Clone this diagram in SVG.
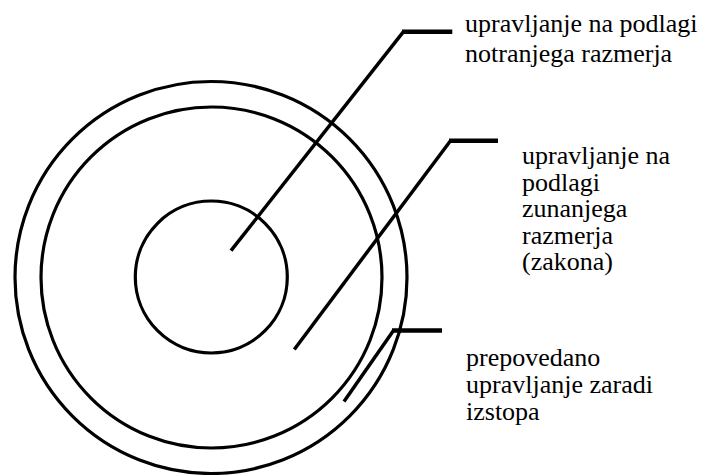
<svg xmlns="http://www.w3.org/2000/svg" width="703" height="475" viewBox="0 0 703 475">
<defs>
<circle id="unused-def" r="0"/>
</defs>
<rect width="703" height="475" fill="#fff"/>
<g id="outer-ring"><circle cx="211" cy="277.5" r="196" fill="none" stroke="#000" stroke-width="3.2"/></g>
<g id="middle-ring"><circle cx="211.5" cy="277.5" r="170.5" fill="none" stroke="#000" stroke-width="3.2"/></g>
<g id="inner-ring"><circle cx="211.3" cy="277" r="76" fill="none" stroke="#000" stroke-width="3.2"/></g>
<g id="connectors" stroke="#000" fill="none">
<line x1="231" y1="250.7" x2="403.5" y2="31.7" stroke-width="3.5"/>
<line x1="402" y1="31.7" x2="452.3" y2="31.7" stroke-width="4.6"/>
<line x1="294.3" y1="349.5" x2="450.5" y2="140.7" stroke-width="3.5"/>
<line x1="449" y1="140.7" x2="498" y2="140.7" stroke-width="4.6"/>
<line x1="344" y1="401.5" x2="393.5" y2="330.5" stroke-width="3.5"/>
<line x1="392" y1="330.5" x2="442" y2="330.5" stroke-width="4.6"/>
</g>
<g id="label-inner" font-family="Liberation Serif" font-size="26">
<text x="465" y="32">upravljanje na podlagi</text>
<text x="465" y="62">notranjega razmerja</text>
</g>
<g id="label-middle" font-family="Liberation Serif" font-size="26">
<text x="522" y="164">upravljanje na</text>
<text x="522" y="190.5">podlagi</text>
<text x="522" y="217">zunanjega</text>
<text x="522" y="243.5">razmerja</text>
<text x="522" y="270">(zakona)</text>
</g>
<g id="label-outer" font-family="Liberation Serif" font-size="26">
<text x="466" y="366">prepovedano</text>
<text x="466" y="393">upravljanje zaradi</text>
<text x="466" y="420">izstopa</text>
</g>
</svg>
